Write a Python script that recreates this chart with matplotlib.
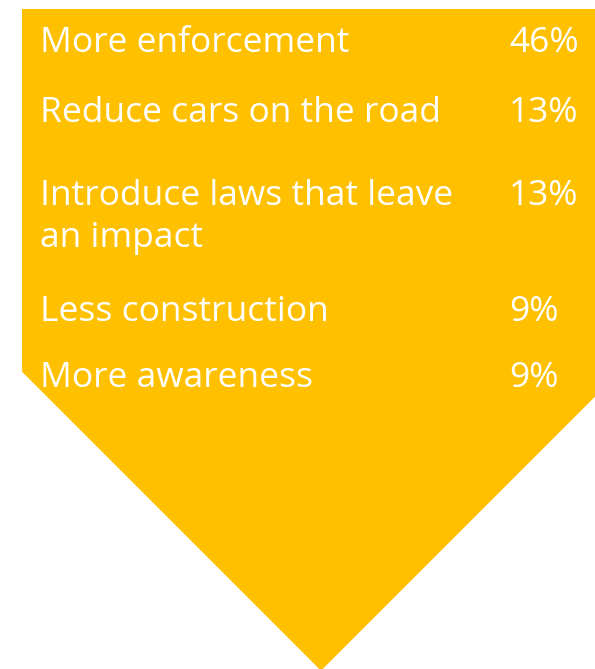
import matplotlib
matplotlib.use("Agg")
import matplotlib.pyplot as plt
from matplotlib.patches import Polygon

# Data
labels = ["More enforcement", "Reduce cars on the road",
          "Introduce laws that leave\nan impact", "Less construction", "More awareness"]
shares = [46, 13, 13, 9, 9]

# Layout (pixel coordinates, y downward)
W, H = 595, 669
baselines = [51.7, 121.7, 205, 320.7, 387.3]
line_gap = 41.7
label_x = 40
pct_x = 509
gold = "#FFC000"
font = "Open Sans"
fs = 25.5

fig = plt.figure(figsize=(W / 100, H / 100), dpi=100)
ax = fig.add_axes([0, 0, 1, 1])
ax.set_xlim(0, W)
ax.set_ylim(H, 0)
ax.axis("off")

shape = Polygon([(22, 9), (620, 9), (620, 371.7), (321, 670.7), (22, 371.7)],
                closed=True, facecolor=gold, edgecolor="none")
ax.add_patch(shape)

for lab, val, yb in zip(labels, shares, baselines):
    for i, line in enumerate(lab.split("\n")):
        ax.text(label_x, yb + i * line_gap, line, color="white", fontsize=fs,
                family=font, va="baseline", ha="left")
    ax.text(pct_x, yb, f"{val}%", color="white", fontsize=fs,
            family=font, va="baseline", ha="left")

fig.savefig("out.png", dpi=100)
